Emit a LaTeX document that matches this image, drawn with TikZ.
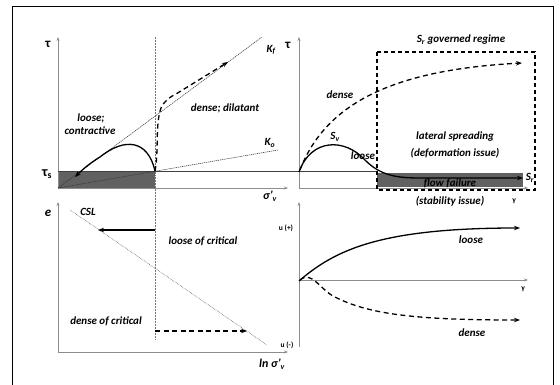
\documentclass[tikz,border=0pt]{standalone}
\usepackage{fontspec}
\setmainfont{Carlito}
\usetikzlibrary{arrows.meta}
\tikzset{
  lab/.style={font=\fontsize{11}{12}\selectfont\bfseries\itshape, inner sep=0pt},
  small/.style={font=\fontsize{7.5}{8}\selectfont\bfseries, inner sep=0pt},
  axis/.style={draw=black!45, line width=0.7pt, -{Stealth[length=4pt,width=3pt]}},
  guide/.style={draw=black!80, line width=0.55pt, dash pattern=on 1.2pt off 0.8pt},
  path/.style={draw=black, line width=1.3pt, -{Stealth[length=6pt,width=4.5pt]}},
  dpath/.style={path, dash pattern=on 5pt off 3.5pt},
}
\begin{document}
\begin{tikzpicture}[x=1pt,y=-1pt]
\useasboundingbox (0,0) rectangle (560,385);
% frame
\draw[line width=1pt] (12,385) -- (12,7) -- (553,7) -- (553,385);

% fills
\fill[black!62] (58,171) rectangle (155,188);
\fill[black!62] (377,173) rectangle (523,187);

% ---------- top-left ----------
\coordinate (O1) at (58,188);
\coordinate (T1) at (58,37);
\coordinate (X1) at (288,188);
\draw[axis] (O1) -- (T1);
\draw[axis] (O1) -- (X1);
\coordinate (S0) at (58,171);
\coordinate (S1) at (377,171);
\draw[black!75, line width=0.7pt] (S0) -- (S1);
\coordinate (V0) at (155,37);
\coordinate (V1) at (155,340);
\draw[black!55, line width=0.5pt, densely dotted] (V0) -- (V1);
\coordinate (Kf) at (262,37);
\coordinate (Ko) at (278,150);
\draw[guide] (O1) -- (Kf);
\draw[guide] (O1) -- (Ko);
\coordinate (P1) at (155,171);
\coordinate (L1) at (100,157);
\coordinate (L2) at (75,177);
\draw[path] (P1) .. controls (148,140) and (125,137) .. (L1) .. controls (90,163) and (82,170) .. (L2);
\coordinate (D1) at (161,108);
\coordinate (D2) at (228,62);
\draw[dpath] (P1) .. controls (159,150) and (155,125) .. (D1) .. controls (165,100) and (170,97) .. (176,94) -- (D2);

\node[font=\fontsize{13}{13}\selectfont\bfseries, inner sep=0pt] (tau1) at (48,44) {τ};
\node[font=\fontsize{14}{14}\selectfont\bfseries, inner sep=0pt] (taus) at (47,174) {τ\textsubscript{s}};
\node[lab] (loose1) at (91,118) {loose;};
\node[lab] (contr) at (90,131) {contractive};
\node[lab] (dil) at (225,108) {dense; dilatant};
\node[lab] (kf) at (271,50) {K\textsubscript{f}};
\node[lab] (ko) at (270,143) {K\textsubscript{o}};
\node[lab, font=\fontsize{12}{12}\selectfont\bfseries\itshape] (sig1) at (270,196) {σ’\textsubscript{v}};

% ---------- top-right ----------
\coordinate (O2) at (299,188);
\coordinate (T2) at (299,37);
\coordinate (X2) at (528,188);
\draw[axis] (O2) -- (T2);
\draw[axis] (O2) -- (X2);
\coordinate (Q0) at (299,172);
\coordinate (Q1) at (365,160);
\coordinate (Q2) at (420,178);
\coordinate (Q3) at (523,178);
\draw[path] (Q0) .. controls (311,138) and (345,138) .. (Q1) .. controls (380,175) and (395,178) .. (Q2) -- (Q3);
\coordinate (R0) at (300,170);
\coordinate (R1) at (522,63);
\draw[dpath] (R0) .. controls (325,105) and (390,70) .. (R1);
\coordinate (B0) at (377,52);
\coordinate (B1) at (535,190);
\draw[line width=1.1pt, dash pattern=on 4pt off 3pt] (B0) rectangle (B1);

\node[font=\fontsize{13}{13}\selectfont\bfseries, inner sep=0pt] (tau2) at (288,45) {τ};
\node[lab] (gov) at (461,40) {S\textsubscript{r} governed regime};
\node[lab] (dense2) at (340,95) {dense};
\node[lab] (sv) at (335,137) {S\textsubscript{v}};
\node[lab] (loose2) at (363,156) {loose};
\node[lab] (lat) at (455,137) {lateral spreading};
\node[lab] (defo) at (455,153) {(deformation issue)};
\node[lab] (flow) at (450,183) {flow failure};
\node[lab] (stab) at (450,201) {(stability issue)};
\node[lab] (sr) at (530,178) {S\textsubscript{r}};
\node[small] (gam1) at (514,201) {γ};

% ---------- bottom-left ----------
\coordinate (O3) at (58,352);
\coordinate (T3) at (58,202);
\coordinate (X3) at (288,352);
\draw[axis] (O3) -- (T3);
\draw[axis] (O3) -- (X3);
\coordinate (C0) at (70,210);
\coordinate (C1) at (267,345);
\draw[black!70, line width=0.55pt, densely dotted] (C0) -- (C1);
\coordinate (A0) at (155,230);
\coordinate (A1) at (98,230);
\draw[path] (A0) -- (A1);
\coordinate (E0) at (155,331);
\coordinate (E1) at (247,331);
\draw[dpath] (E0) -- (E1);

\node[font=\fontsize{13}{13}\selectfont\bfseries\itshape, inner sep=0pt] (e) at (48,213) {e};
\node[lab] (csl) at (88,212) {CSL};
\node[lab] (loc) at (203,241) {loose of critical};
\node[lab] (doc) at (106,321) {dense of critical};
\node[lab, font=\fontsize{12}{12}\selectfont\bfseries\itshape] (ln) at (272,364) {ln σ’\textsubscript{v}};

% ---------- bottom-right ----------
\coordinate (O4) at (299,280);
\coordinate (T4) at (299,202);
\coordinate (U4) at (299,347);
\coordinate (X4) at (528,280);
\draw[axis] (U4) -- (T4);
\draw[axis] (O4) -- (X4);
\coordinate (W0) at (299,281);
\coordinate (W1) at (520,228);
\draw[path] (W0) .. controls (335,250) and (380,228) .. (W1);
\coordinate (Z0) at (300,280);
\coordinate (Z1) at (335,297);
\coordinate (Z2) at (520,320);
\draw[dpath] (Z0) .. controls (312,270) and (320,290) .. (Z1) .. controls (370,315) and (420,320) .. (Z2);

\node[small] (up) at (286,228) {u (+)};
\node[small] (um) at (287,345) {u (-)};
\node[small] (gam2) at (523,289) {γ};
\node[lab] (loose4) at (471,240) {loose};
\node[lab] (dense4) at (472,333) {dense};
\end{tikzpicture}
\end{document}
